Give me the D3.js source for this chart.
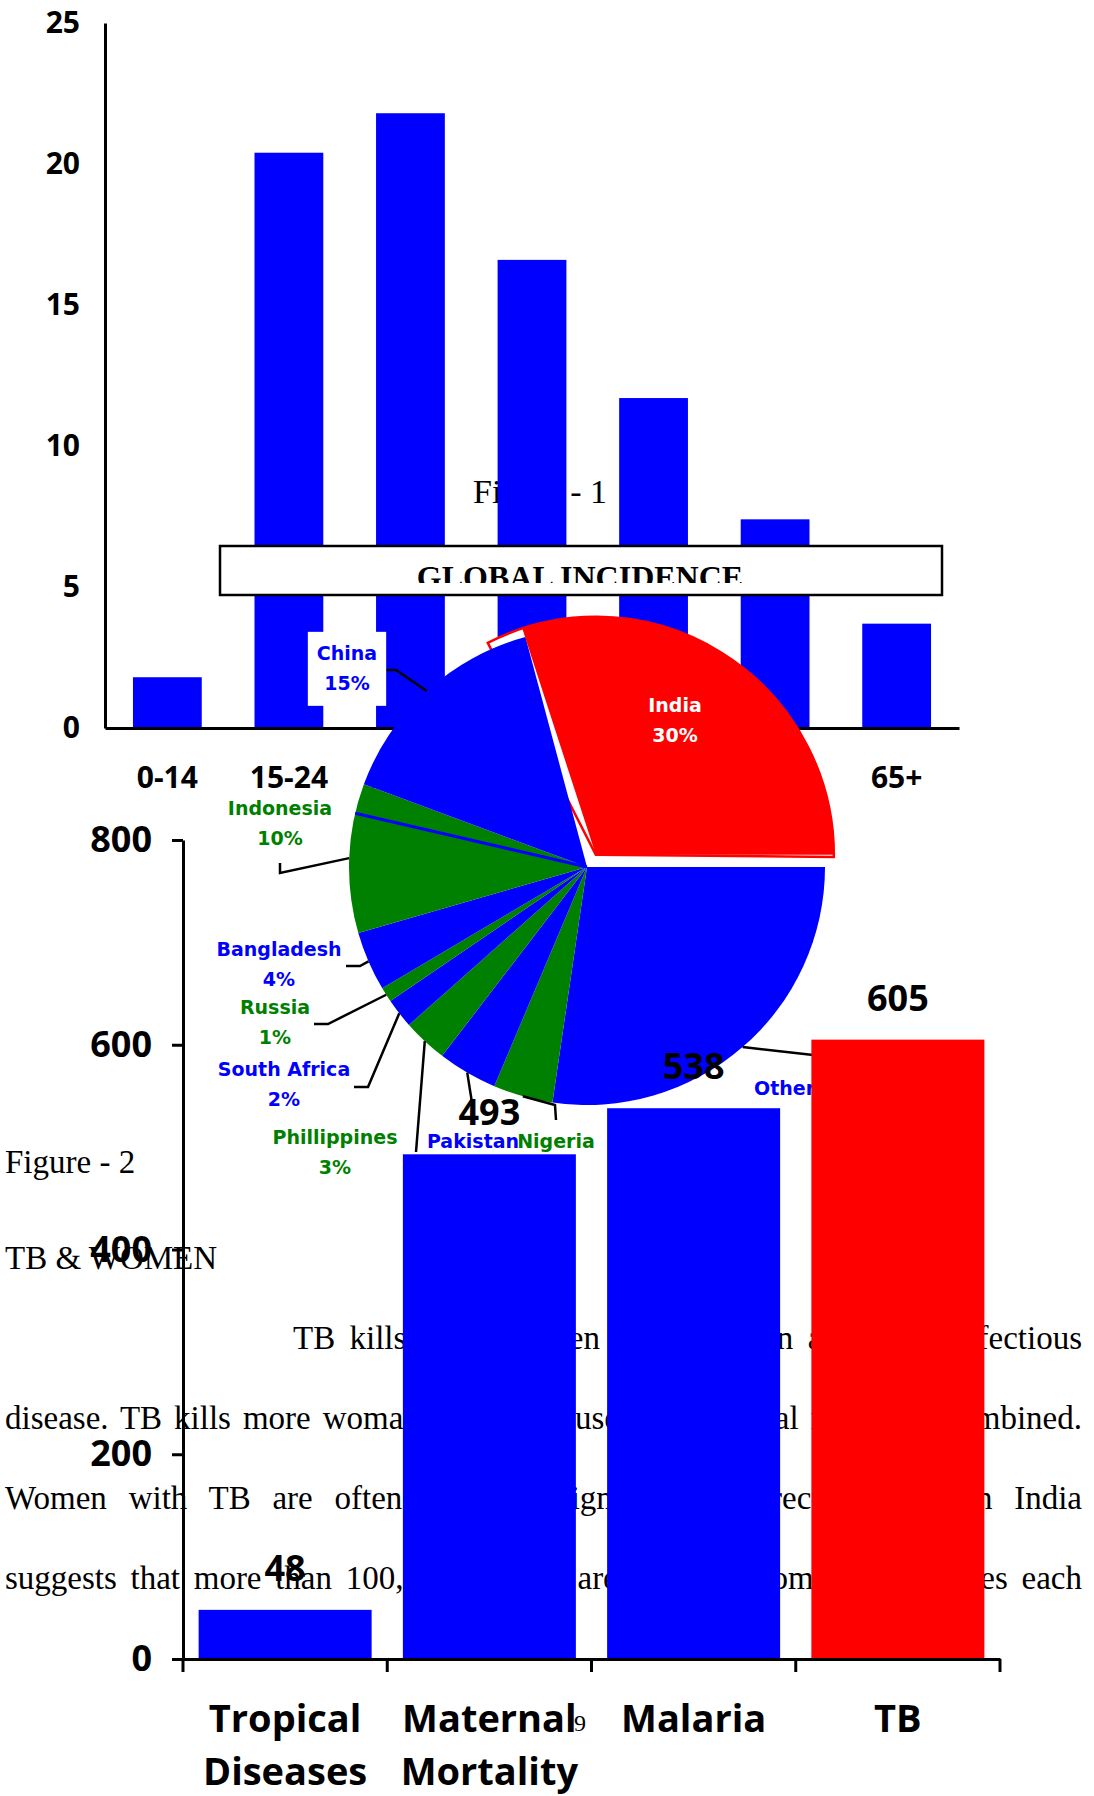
<!DOCTYPE html>
<meta charset="utf-8">
<script src="https://d3js.org/d3.v7.min.js"></script>
<style>
  body { margin: 0; background: #fff; }
  svg { display: block; }
</style>
<svg id="page" width="1094" height="1796"></svg>
<script>

// Figure 1 - incidence by age group
var ageGroups = ["0-14", "15-24", "25-34", "35-44", "45-54", "55-64", "65+"];
var ageValues = [1.8, 20.4, 21.8, 16.6, 11.7, 7.4, 3.7];
var ageTicks = [0, 5, 10, 15, 20, 25];

// Global incidence pie (clockwise, starting with India)
var countries = ["India", "Other", "Nigeria", "Pakistan", "Phillippines", "South Africa", "Russia", "Bangladesh", "Indonesia", "China"];
var shares = [30, 27, 4, 4, 3, 2, 1, 4, 10, 15];
var sliceColors = ["#ff0000", "#0000ff", "#008000", "#0000ff", "#008000", "#0000ff", "#008000", "#0000ff", "#008000", "#0000ff"];

// Figure 2 - TB & women
var causes = [["Tropical", "Diseases"], ["Maternal", "Mortality"], ["Malaria"], ["TB"]];
var deaths = [48, 493, 538, 605];
var deathTicks = [0, 200, 400, 600, 800];
var deathColors = ["#0000ff", "#0000ff", "#0000ff", "#ff0000"];

// body text of the page
var paragraph = [
  "TB kills more women in India than any other infectious",
  "disease. TB kills more woman than all causes of maternal mortality combined.",
  "Women with TB are often socially stigmatised. A recent study in India",
  "suggests that more than 100,000 women are rejected from their families each"
];

var svg = d3.select("#page");
var sans = "'Open Sans', 'Noto Sans', sans-serif";
var serif = "'Liberation Serif', 'Times New Roman', serif";
var labelFont = "'DejaVu Sans', Verdana, sans-serif";
var deg = Math.PI / 180;

// caption sitting behind the first chart
svg.append("text")
  .attr("x", 473).attr("y", 503)
  .attr("font-family", serif).attr("font-size", 34)
  .text("Figure - 1");

// ---------- Figure 1 bars
var x1 = d3.scaleBand()
  .domain(ageGroups)
  .range([105, 959])
  .paddingInner(0.434)
  .paddingOuter(0.23);

var y1 = d3.scaleLinear()
  .domain([0, 25])
  .range([728, 23]);

svg.append("g")
  .selectAll("rect")
  .data(ageValues)
  .enter()
  .append("rect")
    .attr("x", function(d, i){ return x1(ageGroups[i]) })
    .attr("y", function(d){ return y1(d) })
    .attr("width", x1.bandwidth())
    .attr("height", function(d){ return y1(0) - y1(d) })
    .attr("fill", "#0000ff");

svg.append("g")
  .attr("transform", "translate(105,0)")
  .call(d3.axisLeft(y1).tickValues(ageTicks).tickSize(0).tickPadding(25))
  .attr("font-family", sans).attr("font-size", 30).attr("font-weight", 700)
  .call(function(g){ g.select(".domain").attr("stroke-width", 3) });

svg.append("g")
  .attr("transform", "translate(0,728)")
  .call(d3.axisBottom(x1).tickSize(0).tickPadding(39))
  .attr("font-family", sans).attr("font-size", 30).attr("font-weight", 700)
  .call(function(g){ g.select(".domain").attr("stroke-width", 3) });

// title box, its text cut off at the bottom
svg.append("clipPath").attr("id", "boxclip")
  .append("rect").attr("x", 220).attr("y", 546).attr("width", 722).attr("height", 37);
svg.append("rect")
  .attr("x", 220).attr("y", 546).attr("width", 722).attr("height", 49)
  .attr("fill", "#fff").attr("stroke", "#000").attr("stroke-width", 2.5);
svg.append("text")
  .attr("clip-path", "url(#boxclip)")
  .attr("x", 580).attr("y", 588)
  .attr("text-anchor", "middle")
  .attr("font-family", serif).attr("font-size", 32).attr("font-weight", 700)
  .text("GLOBAL INCIDENCE");

// ---------- Pie
var pieCx = 587, pieCy = 867, pieR = 238, explode = 15;

var pie = d3.pie().sort(null).value(function(d){ return d })
  .startAngle(-18 * deg).endAngle(342 * deg);
var india = pie(shares)[0];
// the other slices close up a little under the pulled-out India slice
var rest = d3.pie().sort(null).value(function(d){ return d })
  .startAngle(india.endAngle).endAngle(345 * deg)(shares.slice(1));
rest.forEach(function(d, i){ d.index = i + 1 });
var slices = [india].concat(rest);

var arc = d3.arc().innerRadius(0).outerRadius(pieR);

function shift(d, dist) {
  var m = (d.startAngle + d.endAngle) / 2;
  return [dist * Math.sin(m), -dist * Math.cos(m)];
}

var gp = svg.append("g").attr("transform", "translate(" + pieCx + "," + pieCy + ")");

// white ghost of the pulled-out India slice
gp.append("path")
  .attr("transform", "translate(" + shift(india, explode) + ")")
  .attr("d", arc({startAngle: india.startAngle - 9 * deg, endAngle: india.endAngle + 0.5 * deg}))
  .attr("fill", "#fff").attr("stroke", "#ff0000").attr("stroke-width", 2.5);

gp.selectAll("path.slice")
  .data(rest)
  .enter()
  .append("path")
    .attr("class", "slice")
    .attr("d", arc)
    .attr("fill", function(d){ return sliceColors[d.index] });

// thin blue seam inside Indonesia
var indo = slices[8];
var seam = indo.startAngle + 0.8 * (indo.endAngle - indo.startAngle);
gp.append("line")
  .attr("x1", 0).attr("y1", 0)
  .attr("x2", pieR * Math.sin(seam)).attr("y2", -pieR * Math.cos(seam))
  .attr("stroke", "#0000ff").attr("stroke-width", 3);

gp.append("path")
  .attr("transform", "translate(" + shift(india, explode) + ")")
  .attr("d", arc(india))
  .attr("fill", "#ff0000");

// label placement around the pie
var labelLayout = {
  "India":        {x: 675, y: 705, color: "#fff"},
  "Other":        {x: 754, y: 1088, anchor: "start", oneLine: true, leader: [[840, 1058]]},
  "Nigeria":      {x: 556, y: 1141, leader: [[555, 1105], [556, 1120]]},
  "Pakistan":     {x: 473, y: 1141, leader: [[473, 1109]]},
  "Phillippines": {x: 335, y: 1137, leader: [[416, 1152]]},
  "South Africa": {x: 284, y: 1069, leader: [[368, 1087], [354, 1087]]},
  "Russia":       {x: 275, y: 1007, leader: [[328, 1024], [314, 1024]]},
  "Bangladesh":   {x: 279, y: 949, leader: [[360, 966], [346, 966]]},
  "Indonesia":    {x: 280, y: 808, leader: [[280, 873], [280, 863]]},
  "China":        {x: 347, y: 653, box: true, leader: [[396, 670], [384, 670]]}
};

var leaderLine = d3.line();
var gl = svg.append("g");

slices.forEach(function(d) {
  var name = countries[d.index];
  var lay = labelLayout[name];
  var color = lay.color || sliceColors[d.index];

  var lab = gl.append("g");
  var box = lab.append("rect").attr("fill", "#fff");
  var lines = lay.oneLine ? [name + " " + d.value + "%"] : [name, d.value + "%"];
  lines.forEach(function(t, k) {
    lab.append("text")
      .attr("x", lay.x).attr("y", lay.y + k * 30)
      .attr("dy", "0.36em")
      .attr("text-anchor", lay.anchor || "middle")
      .attr("font-family", labelFont).attr("font-size", 19).attr("font-weight", 700)
      .attr("fill", color)
      .text(t);
  });
  if (lay.box) {
    var bb = lab.node().getBBox();
    box.attr("x", bb.x - 9).attr("y", bb.y - 10)
      .attr("width", bb.width + 18).attr("height", bb.height + 22);
  } else {
    box.remove();
  }

  if (lay.leader) {
    var m = (d.startAngle + d.endAngle) / 2;
    var pts = [[pieCx + pieR * Math.sin(m), pieCy - pieR * Math.cos(m)]].concat(lay.leader);
    gl.insert("path", ":first-child")
      .attr("d", leaderLine(pts))
      .attr("fill", "none").attr("stroke", "#000").attr("stroke-width", 2.5);
  }
});

// ---------- page text under Figure 2
svg.append("text")
  .attr("x", 5).attr("y", 1173)
  .attr("font-family", serif).attr("font-size", 33)
  .text("Figure - 2");
svg.append("text")
  .attr("x", 5).attr("y", 1269)
  .attr("font-family", serif).attr("font-size", 33)
  .text("TB & WOMEN");

var lineStarts = [293, 5, 5, 5];
var rightEdge = 1082;
paragraph.forEach(function(t, i) {
  var txt = svg.append("text")
    .attr("x", lineStarts[i]).attr("y", 1349 + i * 80)
    .attr("font-family", serif).attr("font-size", 33)
    .text(t);
  // justify the line by spreading the word gaps
  var natural = txt.node().getComputedTextLength();
  var gaps = t.split(" ").length - 1;
  txt.attr("word-spacing", (rightEdge - lineStarts[i] - natural) / gaps);
});

// ---------- Figure 2 bars
var x2 = d3.scaleBand()
  .domain(d3.range(causes.length))
  .range([183, 1000])
  .paddingInner(0.153)
  .paddingOuter(0.0765);

var y2 = d3.scaleLinear()
  .domain([0, 800])
  .range([1659, 840]);

svg.append("g")
  .selectAll("rect")
  .data(deaths)
  .enter()
  .append("rect")
    .attr("x", function(d, i){ return x2(i) })
    .attr("y", function(d){ return y2(d) })
    .attr("width", x2.bandwidth())
    .attr("height", function(d){ return y2(0) - y2(d) })
    .attr("fill", function(d, i){ return deathColors[i] });

svg.append("g")
  .attr("transform", "translate(183,0)")
  .call(d3.axisLeft(y2).tickValues(deathTicks).tickSize(11).tickSizeOuter(0).tickPadding(20))
  .attr("font-family", sans).attr("font-size", 36).attr("font-weight", 700)
  .call(function(g){ g.selectAll("line, .domain").attr("stroke-width", 3) });

svg.append("g")
  .attr("transform", "translate(0,1659)")
  .call(d3.axisBottom(x2).tickSize(0).tickFormat(""))
  .call(function(g){ g.select(".domain").attr("stroke-width", 3) });

// ticks sit on the category boundaries
svg.append("g")
  .selectAll("line")
  .data(d3.range(causes.length + 1))
  .enter()
  .append("line")
    .attr("x1", function(i){ return 183 + i * x2.step() })
    .attr("x2", function(i){ return 183 + i * x2.step() })
    .attr("y1", 1659).attr("y2", 1672)
    .attr("stroke", "#000").attr("stroke-width", 3);

svg.append("g")
  .selectAll("text")
  .data(deaths)
  .enter()
  .append("text")
    .attr("x", function(d, i){ return x2(i) + x2.bandwidth() / 2 })
    .attr("y", function(d){ return y2(d) - 29 })
    .attr("text-anchor", "middle")
    .attr("font-family", sans).attr("font-size", 36).attr("font-weight", 700)
    .text(function(d){ return d });

causes.forEach(function(c, i) {
  c.forEach(function(t, k) {
    svg.append("text")
      .attr("x", x2(i) + x2.bandwidth() / 2)
      .attr("y", 1732 + k * 53)
      .attr("text-anchor", "middle")
      .attr("font-family", sans).attr("font-size", 38).attr("font-weight", 700)
      .text(t);
  });
});

// page number
svg.append("text")
  .attr("x", 574).attr("y", 1731)
  .attr("font-family", serif).attr("font-size", 24)
  .text("9");

</script>
